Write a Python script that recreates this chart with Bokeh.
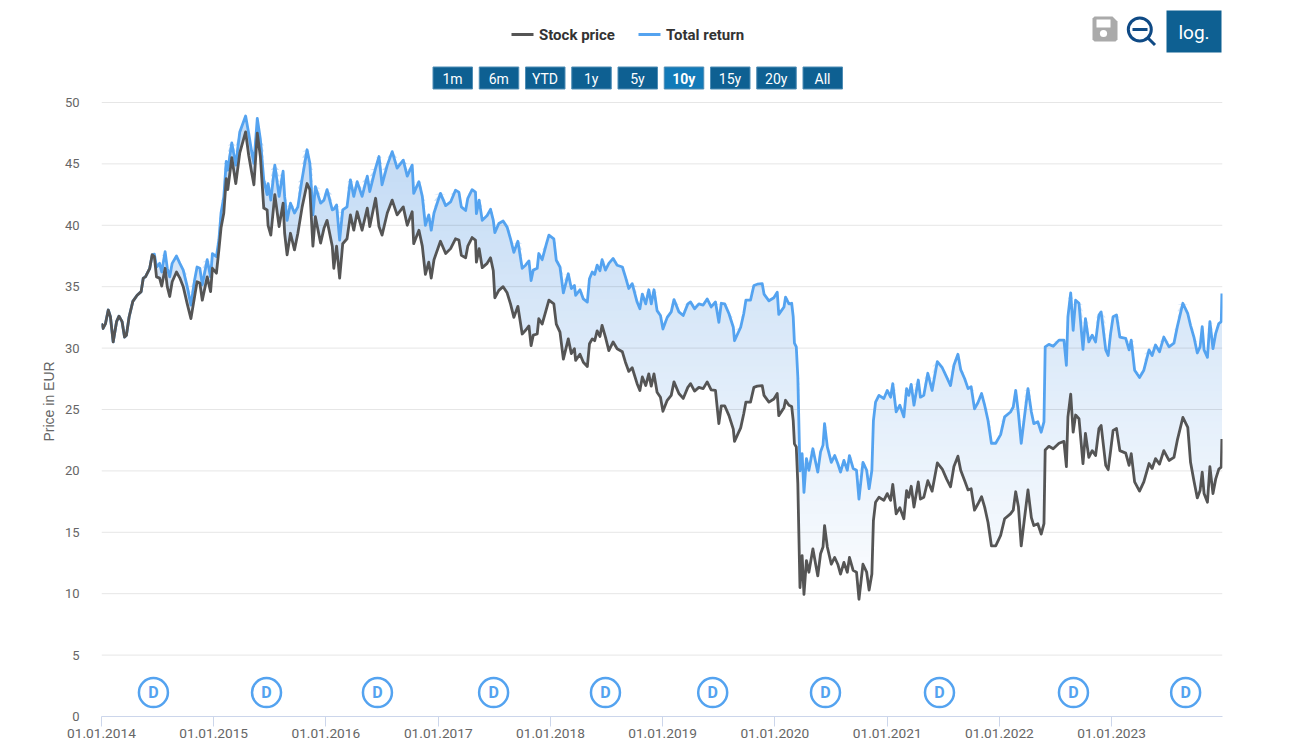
import numpy as np
from bokeh.core.properties import value
from bokeh.embed import file_html
from bokeh.layouts import column
from bokeh.resources import INLINE
from bokeh.plotting import figure
from bokeh.models import FixedTicker, Range1d, Title

# days since 01.01.2014
days = [
 0,5,13,22,29,38,49,57,67,75,81,90,102,116,129,136,143,157,165,
 172,179,189,196,207,214,222,230,244,255,266,279,291,303,311,320,328,344,355,361,374,382,389,398,406,411,
 424,437,450,469,479,488,496,507,517,528,539,542,551,564,578,591,596,604,615,628,639,653,669,678,688,696,
 713,724,734,751,756,765,775,785,799,810,821,832,848,865,873,892,903,913,930,946,962,982,995,1011,1016,
 1033,1044,1054,1065,1073,1082,
 1103,1120,1136,1152,1163,1171,1185,1192,1206,1217,1220,1229,1239,1255,1266,1275,1280,1293,1307,1320,1331,1342,1355,
 1369,1380,1391,1398,1405,1418,1423,1434,1448,1456,1472,1480,1492,1503,1519,1529,1539,1543,1557,1568,1581,1588,
 1597,1605,1613,1622,1629,1640,1651,1665,1678,1695,1705,1716,1727,1743,1752,1760,1771,1781,1789,1798,1808,1819,1827,
 1841,1854,1863,1879,1893,1908,1917,1930,1944,1958,1971,1984,1998,2009,2017,2028,2042,2056,2060,2080,2090,2097,2112,
 2123,2134,2150,2156,2172,2188,2199,2204,2221,2226,
 2237,2246,2251,2255,2261,2266,2273,2280,2286,2294,2302,2315,2324,2331,2340,2348,2353,2362,2375,2386,2396,2405,2416,
 2427,2434,2446,2457,2465,2478,2490,2498,2507,2512,2519,2530,2546,2557,2568,2575,2586,2598,2611,2620,2627,2635,2644,
 2658,2665,2676,2689,2703,2720,2736,2750,2763,2774,2787,2796,2809,2820,2830,2841,2852,2864,2874,2885,2896,2910,2926,
 2939,2958,2967,2975,2984,2993,3002,3015,3026,3034,3047,3058,3067,3071,3083,3097,3116,3132,3140,3145,3154,3162,3170,
 3181,3194,3202,3213,3224,3235,3246,3253,3268,3276,3284,3292,3303,3314,3333,3344,3351,3362,3378,3392,3409,3419,3430,
 3443,3457,3474,3490,3501,3519,3535,3544,3555,3566,3575,3582,3588,3599,3607,3617,3626,3636,3644,3646,
]

stock = [
 32.0,31.6,32.0,33.1,32.55,30.5,32.15,32.6,32.15,30.9,31.05,32.55,33.8,34.3,34.6,35.7,35.8,36.5,37.6,
 37.45,35.8,35.7,35.05,36.5,35.0,34.2,35.4,36.2,35.7,35.0,33.6,32.4,34.2,35.4,35.3,33.9,35.8,34.6,36.5,36.1,38.0,39.8,41.0,43.8,42.9,
 45.5,43.4,45.9,47.6,45.7,44.4,43.3,47.5,45.6,41.4,41.25,40.0,39.2,42.5,39.9,41.8,39.35,37.6,39.35,38.0,39.35,41.5,43.4,42.9,38.3,40.7,
 38.55,39.75,40.4,38.3,36.5,38.3,35.7,38.5,38.9,40.85,39.6,41.1,39.6,41.4,39.9,42.2,39.9,39.2,41.0,42.05,40.85,41.5,40.0,41.1,38.5,
 39.6,38.3,36.0,37.0,35.7,37.2,
 38.7,37.7,38.1,38.9,38.8,37.55,37.35,38.3,39.0,38.8,37.0,38.1,36.55,36.9,37.35,36.3,34.1,34.7,35.0,34.5,33.6,32.5,33.4,
 31.15,31.45,31.8,30.2,31.05,31.15,32.4,31.95,33.2,33.9,33.6,31.95,31.3,29.1,30.75,29.55,29.95,29.0,29.5,28.85,28.5,30.35,
 30.75,30.6,31.4,30.95,31.85,30.9,29.8,30.5,29.95,29.7,28.85,28.1,28.4,27.1,26.55,27.65,26.95,27.9,26.9,27.9,26.4,26.0,24.85,
 25.75,26.15,27.25,26.3,25.9,26.8,27.1,26.5,26.8,26.7,27.25,26.6,26.55,23.85,25.3,25.3,24.5,23.4,22.4,23.5,24.65,25.6,25.6,
 26.8,26.9,26.95,26.15,25.6,25.85,26.3,24.5,25.15,25.75,
 25.35,25.25,24.1,22.2,21.95,18.95,10.5,13.1,9.95,12.7,11.75,13.65,12.4,11.45,13.25,13.8,15.55,13.8,12.4,12.95,12.4,11.6,12.55,
 11.75,12.95,11.9,11.75,9.55,12.4,11.75,10.3,11.6,15.95,17.45,17.85,17.6,18.15,17.6,18.9,16.5,17.0,16.1,18.4,17.85,18.75,17.05,
 19.1,17.7,17.85,19.2,18.35,20.65,20.15,19.35,18.7,20.35,21.2,20.05,19.2,18.45,18.55,16.8,17.3,17.9,17.05,15.8,13.9,13.9,14.75,
 16.1,16.5,16.8,18.3,17.05,13.9,15.8,18.45,16.2,15.55,15.7,14.85,15.7,21.7,22.0,21.8,22.25,22.4,20.35,24.4,26.25,23.15,24.55,
 24.25,20.6,23.05,21.1,21.65,21.25,23.45,23.7,20.45,20.1,21.65,23.3,23.45,21.65,21.45,20.45,21.4,19.1,18.35,19.1,20.6,20.2,21.0,
 20.55,21.65,20.85,21.1,22.5,24.35,23.55,20.7,19.2,17.8,18.4,19.9,18.15,17.45,20.35,18.15,19.35,20.15,20.3,22.6,
]

total = [
 32.0,31.6,32.0,33.1,32.55,30.5,32.15,32.6,32.15,30.9,31.05,32.55,33.8,34.3,34.6,35.7,35.8,36.5,37.6,
 37.65,36.6,36.9,36.2,37.85,36.5,35.8,36.9,37.5,36.9,36.35,35.0,33.5,35.55,36.6,36.5,35.15,37.2,35.8,37.7,37.45,38.8,41.0,42.3,45.2,44.5,
 46.7,44.9,47.6,48.9,47.5,46.1,45.05,48.7,47.0,43.7,42.5,43.4,42.05,44.9,42.35,44.4,42.35,40.4,41.8,41.0,41.5,43.8,46.15,45.05,40.85,43.15,
 41.8,42.05,42.9,41.25,41.3,41.65,38.8,41.25,41.5,43.7,42.35,43.55,42.35,44.0,42.75,44.65,45.6,43.3,44.9,46.0,44.65,45.3,44.0,44.9,42.6,
 43.55,42.35,40.0,40.85,39.6,41.0,
 42.6,41.6,41.9,42.85,42.7,41.5,41.2,42.2,42.9,42.7,40.95,42.05,40.4,40.8,41.3,40.4,39.4,40.15,40.35,39.85,38.9,37.8,38.7,
 36.5,36.75,37.1,35.5,36.35,36.5,37.7,37.2,38.5,39.2,38.9,37.15,36.6,34.5,36.05,34.85,35.1,34.3,34.75,34.0,33.75,35.65,
 36.2,36.0,36.75,36.3,37.2,36.35,36.9,37.3,36.75,36.6,35.8,34.85,35.25,33.75,33.2,34.4,33.6,34.75,33.6,34.75,33.05,32.65,31.55,
 32.5,32.95,33.95,32.95,32.65,33.6,33.75,33.2,33.6,33.5,34.0,33.35,33.75,32.1,33.65,33.6,32.8,31.7,30.6,31.7,32.8,33.9,33.9,
 35.1,35.2,35.25,34.4,33.85,34.1,34.55,32.75,33.35,34.15,
 33.6,33.65,32.55,30.4,30.1,27.65,20.0,21.4,18.25,21.0,20.05,21.8,20.7,19.9,21.55,22.1,23.85,21.95,20.7,21.25,20.6,19.9,20.85,
 20.05,21.25,20.2,20.05,17.7,20.7,20.05,18.55,20.05,24.1,25.6,26.15,25.9,26.55,26.0,27.1,24.8,25.35,24.4,26.7,26.15,27.05,25.35,
 27.4,26.0,26.15,27.95,26.55,28.9,28.4,27.65,26.95,28.6,29.5,28.25,27.5,26.7,26.85,25.05,25.55,26.3,25.35,24.1,22.25,22.25,22.95,
 24.4,24.8,25.2,26.55,24.65,22.25,24.1,26.7,24.8,23.85,24.0,23.15,24.0,30.1,30.3,30.15,30.65,30.65,28.6,32.55,34.5,31.45,33.9,
 33.65,29.9,32.4,30.5,31.05,30.5,32.7,32.95,29.85,29.4,31.2,32.55,32.7,30.9,30.8,29.85,30.65,28.2,27.6,28.2,29.85,29.4,30.25,
 29.7,30.9,30.1,30.4,31.75,33.65,32.8,31.85,30.9,29.6,30.1,31.75,29.85,29.25,32.15,29.95,31.2,32.0,32.15,34.45,
]

dividend_days = [169, 537, 898, 1276, 1640, 1989, 2356, 2727, 3163, 3528]
dividend_level = [1.95] * 10
dividend_labels = ["D"] * 10

y_ticks = [0, 5, 10, 15, 20, 25, 30, 35, 40, 45, 50]
x_ticks = [0, 365, 730, 1096, 1461, 1826, 2191, 2557, 2922, 3287]
x_tick_labels = ["01.01.2014", "01.01.2015", "01.01.2016", "01.01.2017", "01.01.2018",
                 "01.01.2019", "01.01.2020", "01.01.2021", "01.01.2022", "01.01.2023"]
series_names = ["Stock price", "Total return"]
range_buttons = ["1m", "6m", "YTD", "1y", "5y", "10y", "15y", "20y", "All"]
active_button = "10y"

FONT = value("Roboto")
BLUE = "#54a3f0"
GREY = "#555555"
NAVY = "#0e6092"
ACTIVE = "#127ab8"
TEXT = "#666666"

W = 1240
HEADER_H = 96
MAIN_H = 649

# ---------- chart ----------
p = figure(width=W, height=MAIN_H, output_backend="svg", toolbar_location=None,
           x_range=Range1d(0, 3648), y_range=Range1d(0, 50.08),
           min_border_left=101, min_border_right=W - 1222, min_border_top=5, min_border_bottom=29)
p.outline_line_color = None
p.background_fill_color = "white"
p.border_fill_color = "white"
p.xgrid.visible = False
p.ygrid.visible = False

p.xaxis.ticker = FixedTicker(ticks=x_ticks)
p.xaxis.major_label_overrides = dict(zip(x_ticks, x_tick_labels))
p.xaxis.axis_line_color = "#ccd6eb"
p.xaxis.axis_line_width = 1
p.xaxis.major_tick_line_color = "#ccd6eb"
p.xaxis.major_tick_out = 10
p.xaxis.major_tick_in = 0
p.xaxis.minor_tick_line_color = None
p.xaxis.major_label_standoff = 2
p.xaxis.major_label_text_font = "Roboto"
p.xaxis.major_label_text_font_size = "13.7px"
p.xaxis.major_label_text_color = TEXT

p.yaxis.ticker = FixedTicker(ticks=y_ticks)
p.yaxis.axis_line_color = None
p.yaxis.major_tick_line_color = None
p.yaxis.minor_tick_line_color = None
p.yaxis.major_label_standoff = 16
p.yaxis.major_label_text_font = "Roboto"
p.yaxis.major_label_text_font_size = "13px"
p.yaxis.major_label_text_color = TEXT

p.add_layout(Title(text="Price in EUR", align="left", offset=275, text_font="Liberation Sans",
                   text_font_size="14px", text_font_style="normal", text_color=TEXT,
                   standoff=10), "left")

d = np.array(days, dtype=float)
s = np.array(stock)
t = np.array(total)

# gradient between the two series: opaque layers painted from the bottom upwards
for level in np.arange(7.0, 47.0, 0.5):
    f = (level - 7.0) / 38.0
    colour = "#%02x%02x%02x" % (int(round(255 - 58 * f)), int(round(255 - 35 * f)), int(round(255 - 10 * f)))
    p.varea(x=d, y1=np.maximum(s, level), y2=np.maximum(t, level), fill_color=colour)

# horizontal grid lines, over the fill as in the reference
grid_levels = y_ticks[1:]
p.segment(x0=[0] * len(grid_levels), x1=[3648] * len(grid_levels), y0=grid_levels, y1=grid_levels,
          line_color="#000000", line_alpha=0.1, line_width=1)

p.line(d, t, line_color=BLUE, line_width=2.8, line_join="round")
p.line(d, s, line_color=GREY, line_width=2.8, line_join="round")

p.scatter(dividend_days, dividend_level, size=29, marker="circle",
          fill_color="white", line_color=BLUE, line_width=2.5)
p.text(dividend_days, dividend_level, text=dividend_labels, text_align="center",
       text_baseline="middle", text_color=BLUE, text_font=FONT, text_font_style="bold",
       text_font_size="16px")

# ---------- header: legend, range buttons, icons (page pixel coordinates) ----------
h = figure(width=W, height=HEADER_H, output_backend="svg", toolbar_location=None,
           x_range=Range1d(101, 1222), y_range=Range1d(HEADER_H, 0),
           min_border=0, x_axis_location=None, y_axis_location=None)
h.outline_line_color = None
h.grid.visible = False


def hbox(l, r, tp, b, fill, line=None):
    h.quad(left=[l], right=[r], top=[tp], bottom=[b], fill_color=fill, line_color=line)


def htext(x, y, txt, size, color="white", style="normal", align="center"):
    h.text([x], [y], text=[txt], text_font=FONT, text_font_size=size, text_color=color,
           text_font_style=style, text_align=align, text_baseline="middle")


# legend
h.line([511, 533], [34, 34], line_color=GREY, line_width=3)
htext(538.5, 34.5, series_names[0], "15px", color="#333333", style="bold", align="left")
h.line([638, 660], [34, 34], line_color=BLUE, line_width=3)
htext(665.5, 34.5, series_names[1], "15px", color="#333333", style="bold", align="left")

# range buttons
for i, name in enumerate(range_buttons):
    left = 432 + i * 46.25
    on = name == active_button
    hbox(left + 0.5, left + 40, 66.5, 88.5, ACTIVE if on else NAVY, "#4f8db5")
    htext(left + 20, 78, name, "14px", style="bold" if on else "normal")

# log button
hbox(1166, 1221, 10, 52, NAVY)
htext(1193.5, 31.5, "log.", "19px")

# save icon
h.patch([1094, 1112, 1117, 1117, 1115, 1094, 1092, 1092], [16, 16, 21, 39, 41, 41, 39, 18],
        fill_color="#aaaaaa", line_color=None)
hbox(1096, 1110, 19, 27, "white")
h.circle([1103], [33], radius=3.6, fill_color="white", line_color=None)

# zoom-out icon
h.circle([1139.3], [29], radius=11.5, fill_color=None, line_color="#0f4a85", line_width=3)
h.line([1147, 1154.5], [37, 44.5], line_color="#0f4a85", line_width=3)
hbox(1132, 1147, 27.5, 30.5, "#0f4a85")

layout = column(h, p, spacing=0)
open("out.html", "w").write(file_html(layout, INLINE))
